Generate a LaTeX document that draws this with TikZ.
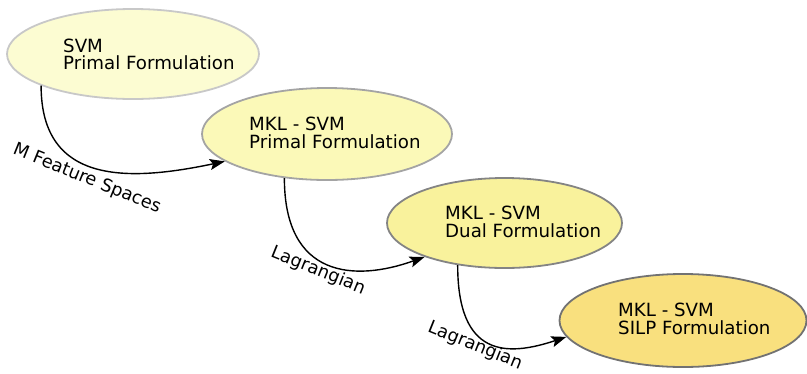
\documentclass[tikz,border=0pt]{standalone}
\usepackage{fontspec}
\setmainfont{DejaVu Sans}
\usetikzlibrary{shapes.geometric,arrows.meta}
\definecolor{fillA}{HTML}{FCFCD2}
\definecolor{lineA}{HTML}{C8C8C8}
\definecolor{fillB}{HTML}{FBF9B8}
\definecolor{lineB}{HTML}{A4A4A4}
\definecolor{fillC}{HTML}{F9F29C}
\definecolor{lineC}{HTML}{848484}
\definecolor{fillD}{HTML}{F9E07E}
\definecolor{lineD}{HTML}{727272}
\begin{document}
\begin{tikzpicture}[x=1pt,y=1pt,
  ell/.style={ellipse,line width=1.8pt,inner sep=0pt},
  txt/.style={anchor=base west,align=left,inner sep=0pt,font=\fontsize{18.2}{17.6}\selectfont},
  lbl/.style={font=\fontsize{17.8}{17.6}\selectfont,rotate=-22,inner sep=0pt},
  arr/.style={line width=1.4pt,-{Stealth[length=15pt,width=11pt,inset=3pt]}}]
\useasboundingbox (0,0) rectangle (807,-373);
\node[ell,fill=fillA,draw=lineA,minimum width=252pt,minimum height=90pt] (e1) at (133,-54) {};
\node[ell,fill=fillB,draw=lineB,minimum width=250pt,minimum height=92pt] (e2) at (327,-134) {};
\node[ell,fill=fillC,draw=lineC,minimum width=235pt,minimum height=90pt] (e3) at (504.5,-223) {};
\node[ell,fill=fillD,draw=lineD,minimum width=247pt,minimum height=93pt] (e4) at (683,-320.5) {};
\node[txt] (t1) at (63,-69.6) {SVM\\Primal Formulation};
\node[txt] (t2) at (249,-148) {MKL - SVM\\Primal Formulation};
\node[txt] (t3) at (445,-237) {MKL - SVM\\Dual Formulation};
\node[txt] (t4) at (618,-334) {MKL - SVM\\SILP Formulation};
\draw[arr] (e1.199) .. controls +(0,-100) and +(-95,-20) .. (e2.195);
\draw[arr] (e2.226) .. controls +(0,-100) and +(-70,-25) .. (e3.203);
\draw[arr] (e3.222) .. controls +(0,-92) and +(-60,-20) .. (e4.188);
\node[lbl] (l1) at (87,-179) {M Feature Spaces};
\node[lbl] (l2) at (318,-271) {Lagrangian};
\node[lbl] (l3) at (475,-346) {Lagrangian};
\end{tikzpicture}
\end{document}
